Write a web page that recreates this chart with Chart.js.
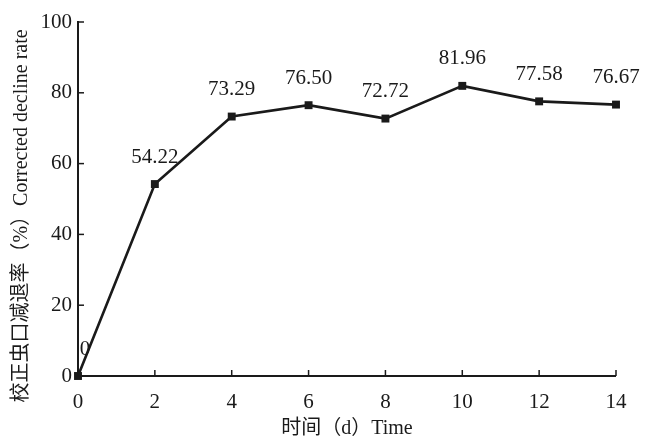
<!DOCTYPE html>
<html><head><meta charset="utf-8">
<script src="https://cdn.jsdelivr.net/npm/chart.js@4.4.1/dist/chart.umd.min.js"></script>
<style>html,body{margin:0;padding:0;background:#fff}#wrap{width:657px;height:442px}</style>
</head><body><div id="wrap"><canvas id="c" width="657" height="442"></canvas></div>
<script>
const days = [0, 2, 4, 6, 8, 10, 12, 14];
const declineRate = [0, 54.22, 73.29, 76.50, 72.72, 81.96, 77.58, 76.67];
const rateLabels = ["0", "54.22", "73.29", "76.50", "72.72", "81.96", "77.58", "76.67"];
const xTicks = [0, 2, 4, 6, 8, 10, 12, 14];
const yTicks = [0, 20, 40, 60, 80, 100];
const xTitle = "时间（d）Time";
const yTitle = "校正虫口减退率（%）Corrected decline rate";

const FONT = '"Liberation Serif","Noto Sans CJK SC",serif';
const INK = '#1a1a1a';

const decor = {
  id: 'decor',
  afterDraw(chart) {
    const ctx = chart.ctx, xs = chart.scales.x, ys = chart.scales.y;
    const ca = chart.chartArea;
    ctx.save();
    ctx.strokeStyle = INK; ctx.lineWidth = 2;
    ctx.beginPath();
    ctx.moveTo(ca.left, ys.getPixelForValue(100) - 1);
    ctx.lineTo(ca.left, ca.bottom);
    ctx.lineTo(ca.right, ca.bottom);
    ctx.stroke();
    ctx.lineWidth = 1.5;
    xTicks.forEach(v => { const px = xs.getPixelForValue(v); ctx.beginPath(); ctx.moveTo(px, ca.bottom); ctx.lineTo(px, ca.bottom - 6); ctx.stroke(); });
    yTicks.forEach(v => { const py = ys.getPixelForValue(v); ctx.beginPath(); ctx.moveTo(ca.left, py); ctx.lineTo(ca.left + 6, py); ctx.stroke(); });
    ctx.fillStyle = INK; ctx.font = '21px ' + FONT;
    ctx.textAlign = 'center'; ctx.textBaseline = 'middle';
    xTicks.forEach(v => ctx.fillText(String(v), xs.getPixelForValue(v), ca.bottom + 26));
    ctx.textAlign = 'right';
    yTicks.forEach(v => ctx.fillText(String(v), ca.left - 6, ys.getPixelForValue(v)));
    ctx.textAlign = 'center';
    const meta = chart.getDatasetMeta(0);
    meta.data.forEach((pt, i) => {
      const dx = i === 0 ? 7 : 0;
      ctx.fillText(rateLabels[i], pt.x + dx, pt.y - 27);
    });
    ctx.font = '20px ' + FONT;
    ctx.fillText(xTitle, (ca.left + ca.right) / 2, 429);
    ctx.translate(22, 216);
    ctx.rotate(-Math.PI / 2);
    ctx.fillText(yTitle, 0, 0);
    ctx.restore();
  }
};

new Chart(document.getElementById('c'), {
  type: 'line',
  data: {
    datasets: [{
      data: days.map((d, i) => ({ x: d, y: declineRate[i] })),
      borderColor: INK, borderWidth: 2.6,
      pointStyle: 'rect', pointRadius: 5.6, pointBackgroundColor: INK, pointBorderColor: INK, pointBorderWidth: 0,
      tension: 0, clip: false
    }]
  },
  options: {
    responsive: false, animation: false, devicePixelRatio: 1,
    layout: { padding: { top: 22, right: 41, left: 0, bottom: 0 } },
    plugins: { legend: { display: false }, tooltip: { enabled: false } },
    scales: {
      x: { type: 'linear', min: 0, max: 14, border: { display: false }, grid: { display: false },
           ticks: { display: false }, afterFit(s) { s.height = 66; } },
      y: { min: 0, max: 100, border: { display: false }, grid: { display: false },
           ticks: { display: false }, afterFit(s) { s.width = 78; } }
    }
  },
  plugins: [decor]
});
</script></body></html>
